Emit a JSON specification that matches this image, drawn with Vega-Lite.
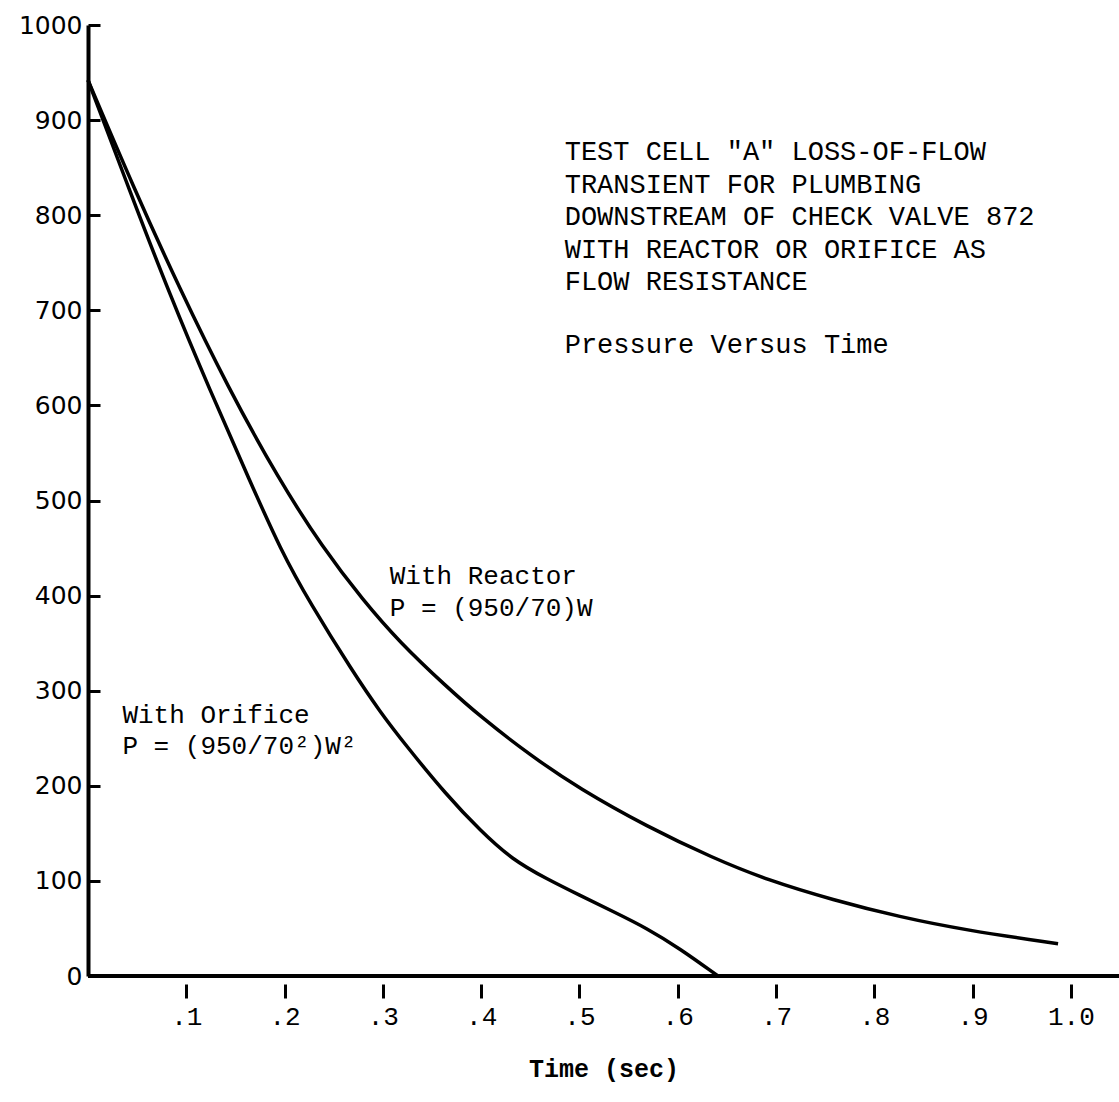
{
  "$schema": "https://vega.github.io/schema/vega-lite/v6.json",
  "width": 1031,
  "height": 951,
  "autosize": "none",
  "padding": {"left": 88, "top": 25, "right": 0, "bottom": 126},
  "background": "white",
  "config": {"view": {"stroke": null}},
  "resolve": {"scale": {"y": "shared", "x": "shared"}, "axis": {"y": "independent"}},
  "data": {
    "values": [
      {"series": "With Reactor", "t": 0, "p": 942},
      {"series": "With Reactor", "t": 0.046, "p": 830},
      {"series": "With Reactor", "t": 0.094, "p": 721},
      {"series": "With Reactor", "t": 0.142, "p": 620},
      {"series": "With Reactor", "t": 0.193, "p": 524},
      {"series": "With Reactor", "t": 0.239, "p": 450},
      {"series": "With Reactor", "t": 0.28, "p": 395},
      {"series": "With Reactor", "t": 0.317, "p": 351},
      {"series": "With Reactor", "t": 0.365, "p": 304},
      {"series": "With Reactor", "t": 0.399, "p": 273},
      {"series": "With Reactor", "t": 0.45, "p": 232},
      {"series": "With Reactor", "t": 0.5, "p": 197},
      {"series": "With Reactor", "t": 0.569, "p": 157},
      {"series": "With Reactor", "t": 0.636, "p": 124},
      {"series": "With Reactor", "t": 0.691, "p": 101},
      {"series": "With Reactor", "t": 0.758, "p": 80},
      {"series": "With Reactor", "t": 0.826, "p": 62},
      {"series": "With Reactor", "t": 0.894, "p": 48},
      {"series": "With Reactor", "t": 0.987, "p": 34},
      {"series": "With Orifice", "t": 0, "p": 942},
      {"series": "With Orifice", "t": 0.043, "p": 824},
      {"series": "With Orifice", "t": 0.083, "p": 717},
      {"series": "With Orifice", "t": 0.124, "p": 616},
      {"series": "With Orifice", "t": 0.165, "p": 520},
      {"series": "With Orifice", "t": 0.196, "p": 448},
      {"series": "With Orifice", "t": 0.226, "p": 392},
      {"series": "With Orifice", "t": 0.27, "p": 319},
      {"series": "With Orifice", "t": 0.297, "p": 278},
      {"series": "With Orifice", "t": 0.323, "p": 243},
      {"series": "With Orifice", "t": 0.365, "p": 190},
      {"series": "With Orifice", "t": 0.399, "p": 153},
      {"series": "With Orifice", "t": 0.432, "p": 122},
      {"series": "With Orifice", "t": 0.467, "p": 102},
      {"series": "With Orifice", "t": 0.5, "p": 85},
      {"series": "With Orifice", "t": 0.534, "p": 68},
      {"series": "With Orifice", "t": 0.569, "p": 50},
      {"series": "With Orifice", "t": 0.602, "p": 29},
      {"series": "With Orifice", "t": 0.641, "p": 0}
    ]
  },
  "layer": [
    {
      "mark": {"type": "line", "color": "black", "strokeWidth": 3.5, "interpolate": "basis"},
      "encoding": {
        "x": {
          "field": "t", "type": "quantitative",
          "scale": {"domain": [0, 1.049], "nice": false},
          "axis": {
            "values": [0.1, 0.2, 0.3, 0.4, 0.5, 0.6, 0.7, 0.8, 0.9, 1.0],
            "domain": false, "grid": false,
            "offset": 8, "tickSize": 14, "tickWidth": 3, "tickColor": "black",
            "labelPadding": 5, "labelFont": "Liberation Mono", "labelFontSize": 26,
            "labelColor": "black", "labelFlush": false, "labelOverlap": false,
            "labelExpr": "datum.value >= 0.99 ? '1.0' : replace(format(datum.value, '.1f'), '0.', '.')",
            "title": "Time (sec)", "titleFont": "Liberation Mono", "titleFontSize": 25,
            "titleFontWeight": "bold", "titleColor": "black", "titlePadding": 27
          }
        },
        "y": {
          "field": "p", "type": "quantitative",
          "scale": {"domain": [0, 1000], "nice": false},
          "axis": {
            "orient": "left",
            "values": [0, 100, 200, 300, 400, 500, 600, 700, 800, 900, 1000],
            "format": "d",
            "domainWidth": 4, "domainColor": "black", "grid": false,
            "ticks": false,
            "labelPadding": 6, "labelFont": "DejaVu Sans", "labelFontSize": 25,
            "labelColor": "black", "labelFlush": false, "labelOverlap": false,
            "title": null
          }
        },
        "detail": {"field": "series"}
      }
    },
    {
      "data": {"values": [{}]},
      "mark": {"type": "rule", "color": "black", "strokeWidth": 4},
      "encoding": {
        "y": {
          "datum": 0, "type": "quantitative",
          "axis": {
            "orient": "right", "offset": -1031,
            "values": [0, 100, 200, 300, 400, 500, 600, 700, 800, 900, 1000],
            "domain": false, "labels": false, "grid": false,
            "ticks": true, "tickSize": 12, "tickWidth": 3, "tickColor": "black",
            "title": null
          }
        }
      }
    },
    {
      "data": {"values": [{}]},
      "mark": {
        "type": "text", "align": "left", "baseline": "top",
        "font": "Liberation Mono", "fontSize": 27, "lineHeight": 32.5, "color": "black",
        "text": ["TEST CELL \"A\" LOSS-OF-FLOW", "TRANSIENT FOR PLUMBING", "DOWNSTREAM OF CHECK VALVE 872", "WITH REACTOR OR ORIFICE AS", "FLOW RESISTANCE"]
      },
      "encoding": {"x": {"datum": 0.485}, "y": {"datum": 880, "axis": null}}
    },
    {
      "data": {"values": [{}]},
      "mark": {
        "type": "text", "align": "left", "baseline": "top",
        "font": "Liberation Mono", "fontSize": 27, "color": "black",
        "text": "Pressure Versus Time"
      },
      "encoding": {"x": {"datum": 0.485}, "y": {"datum": 677, "axis": null}}
    },
    {
      "data": {"values": [{}]},
      "mark": {
        "type": "text", "align": "left", "baseline": "top",
        "font": "Liberation Mono", "fontSize": 26, "lineHeight": 32, "color": "black",
        "text": ["With Reactor", "P = (950/70)W"]
      },
      "encoding": {"x": {"datum": 0.307}, "y": {"datum": 434, "axis": null}}
    },
    {
      "data": {"values": [{}]},
      "mark": {
        "type": "text", "align": "left", "baseline": "top",
        "font": "Liberation Mono", "fontSize": 26, "lineHeight": 31, "color": "black",
        "text": ["With Orifice", "P = (950/70²)W²"]
      },
      "encoding": {"x": {"datum": 0.035}, "y": {"datum": 288, "axis": null}}
    }
  ]
}
